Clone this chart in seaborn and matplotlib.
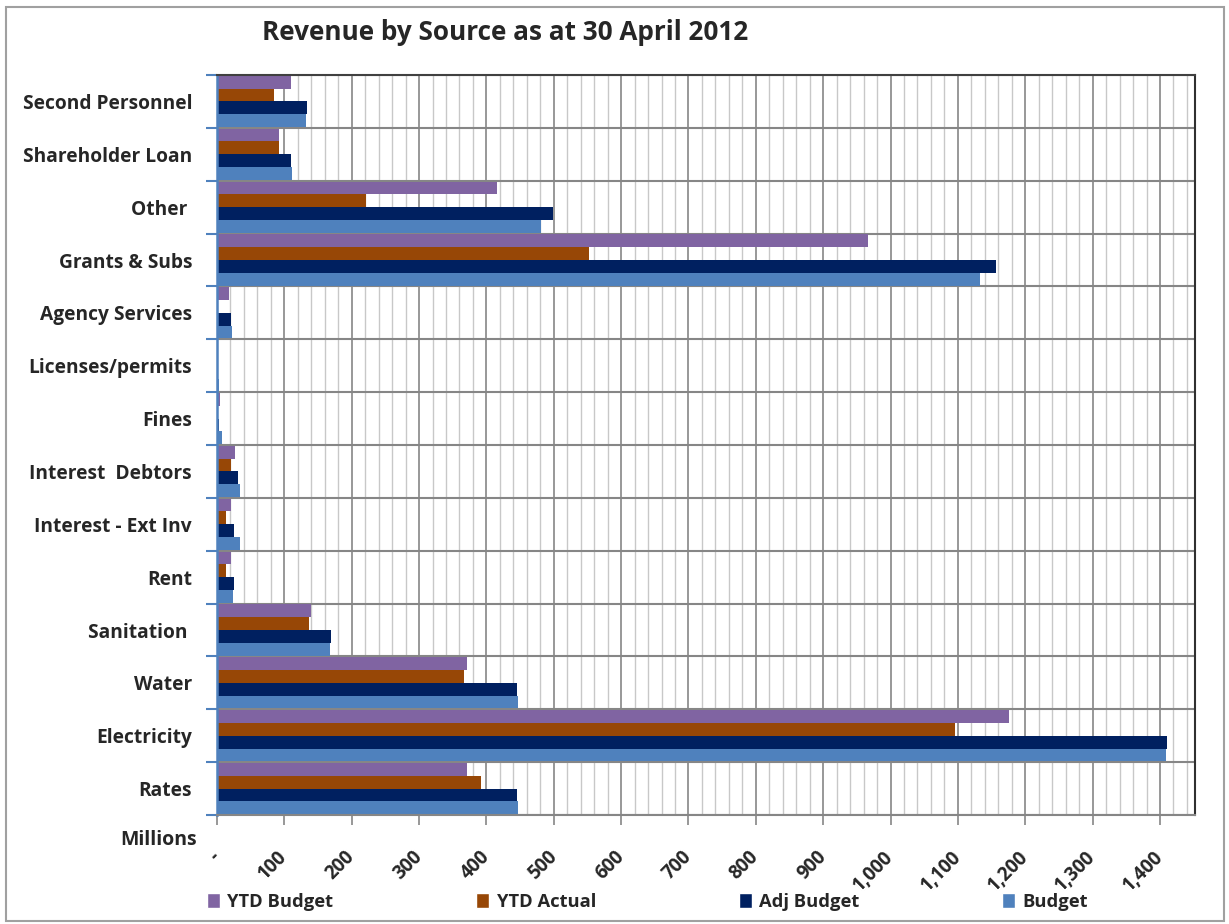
import matplotlib
matplotlib.use("Agg")
import matplotlib.pyplot as plt
from matplotlib.ticker import MultipleLocator, FuncFormatter, FixedLocator
from matplotlib.patches import Rectangle, Patch
import seaborn as sns
import pandas as pd

categories = ["Second Personnel", "Shareholder Loan", "Other ", "Grants & Subs",
              "Agency Services", "Licenses/permits", "Fines", "Interest  Debtors",
              "Interest - Ext Inv", "Rent", "Sanitation ", "Water", "Electricity", "Rates"]
series = ["YTD Budget", "YTD Actual", "Adj Budget", "Budget"]
ytd_budget = [110, 92, 416, 966, 18, 0.5, 4, 27, 21, 21, 139, 371, 1176, 371]
ytd_actual = [84, 92, 221, 553, 0, 0.3, 0, 21, 13, 13, 136, 367, 1095, 392]
adj_budget = [133, 110, 499, 1157, 21, 0.5, 3.5, 31, 25, 25, 169, 446, 1410, 446]
budget = [132, 111, 481, 1133, 22, 3, 8, 34, 34, 24, 168, 447, 1409, 447]
colors = ["#8064A2", "#974706", "#002060", "#4F81BD"]
title = "Revenue by Source as at 30 April 2012"

rows = []
for s, vals in zip(series, [ytd_budget, ytd_actual, adj_budget, budget]):
    for c, v in zip(categories, vals):
        rows.append({"Category": c, "Series": s, "Value": v})
df = pd.DataFrame(rows)

sns.set_theme(style="white")
plt.rcParams["font.family"] = ["Open Sans", "DejaVu Sans"]
plt.rcParams["font.weight"] = "bold"

fig = plt.figure(figsize=(12.29, 9.24), dpi=100)
ax = fig.add_axes([217 / 1229, 1 - 815 / 924, (1195 - 217) / 1229, (815 - 75) / 924])

sns.barplot(data=df, y="Category", x="Value", hue="Series", hue_order=series,
            order=categories, orient="h", palette=colors, width=0.97, gap=0,
            saturation=1, linewidth=0, legend=False, ax=ax)

ax.set_xlim(0, 1452)
ax.set_ylim(len(categories) - 0.5, -0.5)
ax.xaxis.set_major_locator(MultipleLocator(100))
ax.xaxis.set_minor_locator(MultipleLocator(20))
ax.xaxis.set_major_formatter(FuncFormatter(lambda v, p: "-" if v == 0 else f"{v:,.0f}"))
ax.yaxis.set_minor_locator(FixedLocator([i - 0.5 for i in range(len(categories) + 1)]))

ax.set_axisbelow(True)
ax.grid(True, which="major", axis="x", color="#868686", linewidth=1.2)
ax.grid(True, which="minor", axis="x", color="#C8C8C8", linewidth=1.0)
ax.grid(True, which="minor", axis="y", color="#868686", linewidth=1.5)

ax.set_xlabel("")
ax.set_ylabel("")
ax.tick_params(axis="y", which="major", length=0, pad=18, labelsize=13.8)
ax.tick_params(axis="y", which="minor", length=8, width=1.5, color="#4F81BD", direction="out", left=True)
ax.tick_params(axis="x", which="major", length=7, width=1.2, color="#868686", direction="out",
               bottom=True, pad=21, labelsize=13.5)
ax.tick_params(axis="x", which="minor", length=0)
for lbl in ax.get_yticklabels():
    lbl.set_fontweight("bold")
for lbl in ax.get_xticklabels():
    lbl.set_fontweight("bold")
    lbl.set_rotation(45)
    lbl.set_ha("right")
    lbl.set_va("center")
    lbl.set_rotation_mode("anchor")

ax.spines["left"].set_color("#4F81BD")
ax.spines["left"].set_linewidth(1.8)
ax.spines["bottom"].set_color("#868686")
ax.spines["bottom"].set_linewidth(1.5)
ax.spines["top"].set_color("#404040")
ax.spines["top"].set_linewidth(1.5)
ax.spines["right"].set_color("#303030")
ax.spines["right"].set_linewidth(1.5)

fig.text(505 / 1229, 1 - 33 / 924, title, ha="center", va="center", fontsize=18.8, fontweight="bold")
fig.text(197 / 1229, 1 - 840 / 924, "Millions", ha="right", va="center", fontsize=14, fontweight="bold")

handles = [Patch(facecolor=c, label=s) for c, s in zip(colors, series)]
fig.legend(handles=handles, loc="center", ncol=4, mode="expand",
           bbox_to_anchor=(200 / 1229, 1 - 915 / 924, (1095 - 200) / 1229, 26 / 924),
           frameon=False, prop={"weight": "bold", "size": 13.2},
           handlelength=0.7, handleheight=0.9, handletextpad=0.4, borderaxespad=0)

fig.patches.append(Rectangle((6 / 1229, 1 - 921 / 924), (1224 - 6) / 1229, (921 - 7) / 924,
                             transform=fig.transFigure, fill=False, edgecolor="#A0A0A0",
                             linewidth=1.5))

fig.savefig("out.png", dpi=100)
